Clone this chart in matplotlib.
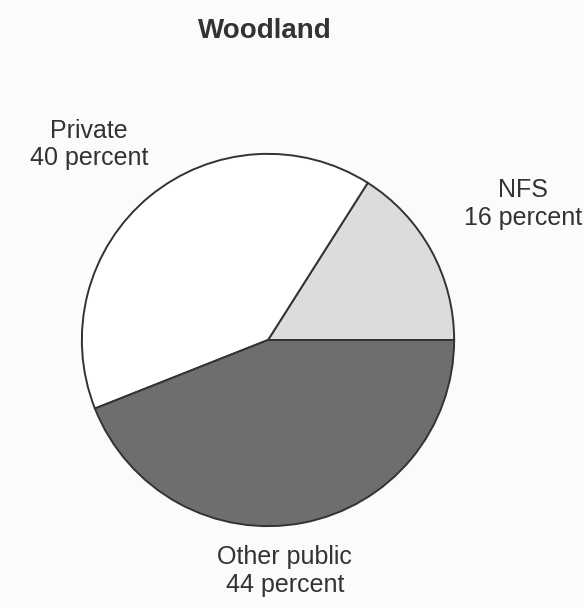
import matplotlib
matplotlib.use("Agg")
import matplotlib.pyplot as plt

plt.rcParams['font.family'] = ['Liberation Sans', 'DejaVu Sans']

# dados
categorias = ["NFS", "Private", "Other public"]
percentuais = [16, 40, 44]
cores = ["#dcdcdc", "#ffffff", "#6f6d70"]

fig = plt.figure(figsize=(5.84, 6.08), dpi=100)
fig.patch.set_facecolor("#fbfbfd")

ax = fig.add_axes([80 / 584, 80 / 608, 376 / 584, 376 / 608])
ax.pie(percentuais, colors=cores, startangle=0, counterclock=True,
       radius=1.0,
       wedgeprops=dict(edgecolor="#333333", linewidth=1.4))
ax.set_xlim(-1.01, 1.01)
ax.set_ylim(-1.01, 1.01)
ax.set_aspect("equal")
ax.axis("off")

# rotulos
pos = {"NFS": (1.37, 0.73), "Private": (-0.963, 1.05), "Other public": (0.09, -1.24)}
for nome, p in zip(categorias, percentuais):
    x, y = pos[nome]
    ax.text(x, y, f"{nome}\n{p} percent", ha="center", va="center",
            fontsize=18, color="#333333", linespacing=1.2, clip_on=False)

fig.text(265 / 584, 1 - 31 / 608, "Woodland", ha="center", va="center",
         fontsize=20, fontweight="bold", color="#333333")

fig.savefig("out.png", dpi=100, facecolor=fig.get_facecolor())
